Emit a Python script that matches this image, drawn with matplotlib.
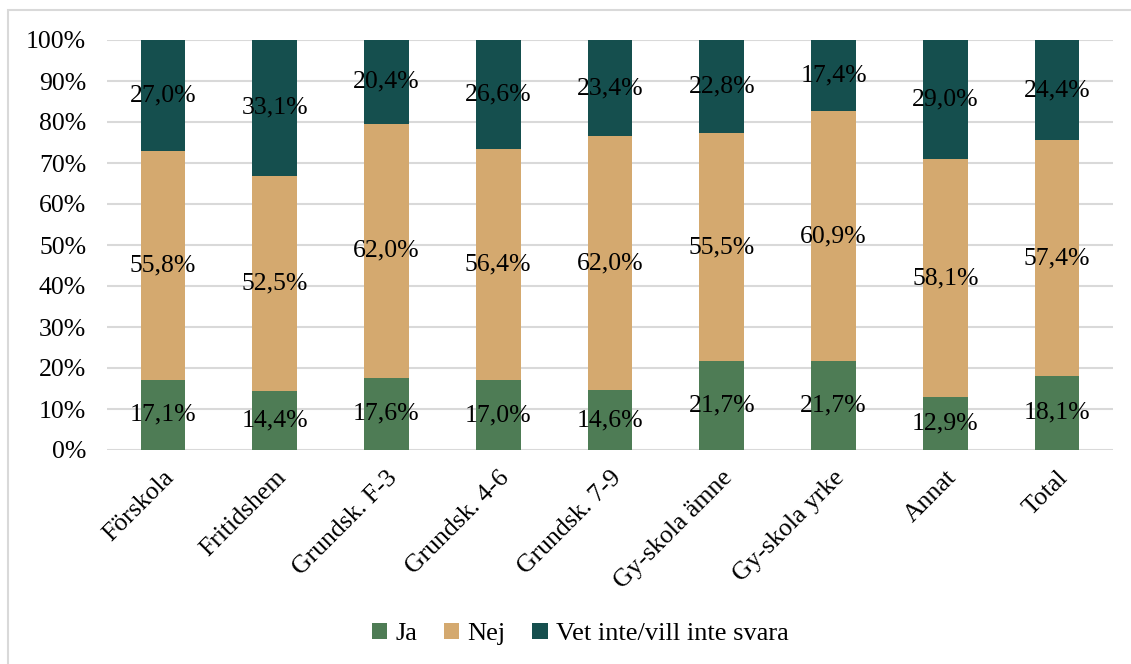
import numpy as np
from matplotlib import pyplot as plt
from matplotlib.patches import Rectangle

categories = ["Förskola", "Fritidshem", "Grundsk. F-3", "Grundsk. 4-6", "Grundsk. 7-9",
              "Gy-skola ämne", "Gy-skola yrke", "Annat", "Total"]
ja = [17.1, 14.4, 17.6, 17.0, 14.6, 21.7, 21.7, 12.9, 18.1]
nej = [55.8, 52.5, 62.0, 56.4, 62.0, 55.5, 60.9, 58.1, 57.4]
vet = [27.0, 33.1, 20.4, 26.6, 23.4, 22.8, 17.4, 29.0, 24.4]
series_names = ["Ja", "Nej", "Vet inte/vill inte svara"]
colors = ["#4E7C55", "#D4A96F", "#154F4E"]

plt.rcParams['font.family'] = ['Liberation Serif', 'DejaVu Serif']

fig = plt.figure(figsize=(11.31, 6.64), dpi=100)
fig.patches.append(Rectangle((8/1131, -0.01), 1.02, 1 - 10/664 + 0.01, transform=fig.transFigure,
                             fill=False, edgecolor="#D9D9D9", linewidth=1.5))
ax = fig.add_axes([107/1131, 214/664, (1113-107)/1131, 410/664])

x = np.arange(len(categories))
bottom = np.zeros(len(categories))
for vals, name, c in zip([ja, nej, vet], series_names, colors):
    vals = np.array(vals)
    ax.bar(x, vals, 0.4, bottom=bottom, color=c, label=name, zorder=2)
    for xi, b, v in zip(x, bottom, vals):
        ax.text(xi, b + v / 2, f"{v:.1f}%".replace(".", ","), ha="center", va="center",
                fontsize=18.5, color="black", zorder=3)
    bottom += vals

ax.set_xlim(-0.5, len(categories) - 0.5)
ax.set_ylim(0, 100)
ax.set_yticks(np.arange(0, 101, 10))
ax.set_yticklabels([f"{t}%" for t in range(0, 101, 10)], fontsize=18.5)
ax.yaxis.grid(True, color="#D9D9D9", linewidth=1.5, zorder=0)
ax.set_axisbelow(True)
ax.set_xticks(x)
ax.set_xticklabels(categories, rotation=45, ha="right", rotation_mode="anchor", fontsize=18.5)
ax.tick_params(axis="y", length=0, pad=15)
ax.tick_params(axis="x", length=0, pad=12)
for s in ax.spines.values():
    s.set_visible(False)

fig.legend(loc="center", bbox_to_anchor=(580/1131, 1 - 634/664), ncol=3, frameon=False,
           fontsize=19, handlelength=0.6, handleheight=0.6, handletextpad=0.3, columnspacing=1.0)

fig.savefig("out.png", dpi=100)
